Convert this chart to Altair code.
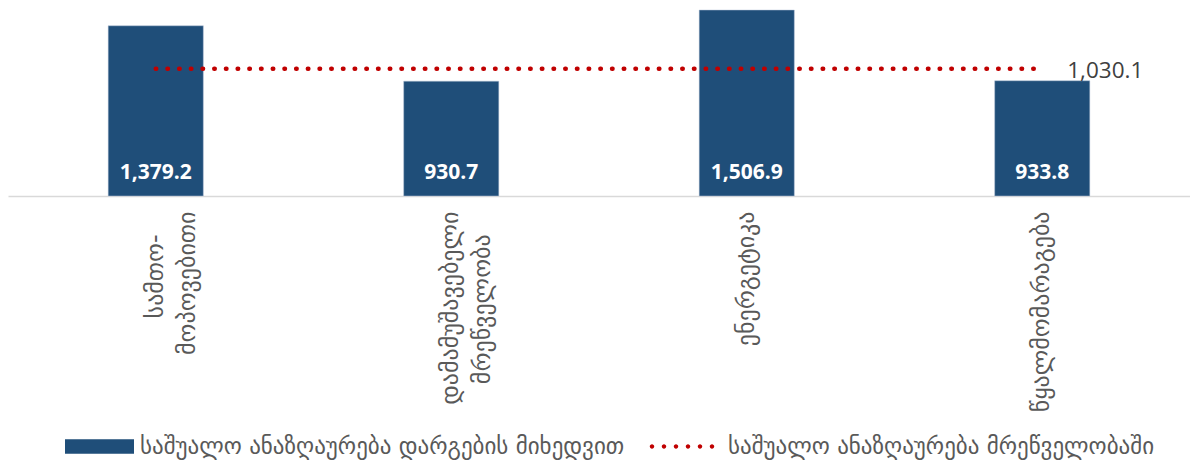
import altair as alt
import pandas as pd

# ---- data ----
categories = ["სამთო-\nმოპოვებითი", "დამამუშავებელი\nმრეწველობა", "ენერგეტიკა", "წყალმომარაგება"]
values = [1379.2, 930.7, 1506.9, 933.8]
industry_avg = 1030.1
series_bar = "საშუალო ანაზღაურება დარგების მიხედვით"
series_line = "საშუალო ანაზღაურება მრეწველობაში"

BLUE = "#1F4E79"
RED = "#C00000"
GRAY = "#595959"
GEO_FONT = "DejaVu Sans"
NUM_FONT = "Open Sans"

bars_df = pd.DataFrame({"cat": categories, "value": values, "series": series_bar})
line_df = pd.DataFrame({"cat": categories, "value": [industry_avg] * len(categories), "series": series_line})
end_df = line_df.tail(1)

# axis label expression: multi-line labels, shorter lines centred via trailing
# no-break spaces (closed by a zero-width space so they are not trimmed)
NBSP = "\u00a0"
ZWSP = "\u200b"
clauses = []
for cat in categories:
    if "\n" in cat:
        lines = cat.split("\n")
        longest = max(len(l) for l in lines)
        padded = []
        for l in lines:
            n = round((longest - len(l)) * 0.75)
            padded.append(l + (NBSP * n + ZWSP if n > 0 else ""))
        arr = "[" + ", ".join("'" + p + "'" for p in padded) + "]"
        clauses.append("datum.label == '" + cat.replace("\n", "\\n") + "' ? " + arr + " : ")
label_expr = "".join(clauses) + "datum.label"

# legend symbol paths
rect_path = "M-1,-0.213H1V0.213H-1Z"
dot_r = 0.07
dot_centers = [-0.9375, -0.5625, -0.1875, 0.1875, 0.5625, 0.9375]
dots_path = "".join(
    f"M{c - dot_r:.4f},0A{dot_r},{dot_r} 0 1,0 {c + dot_r:.4f},0A{dot_r},{dot_r} 0 1,0 {c - dot_r:.4f},0Z"
    for c in dot_centers
)

x_enc = alt.X(
    "cat:N",
    sort=categories,
    scale=alt.Scale(paddingInner=0.678, paddingOuter=0.339),
    axis=alt.Axis(
        title=None,
        labelAngle=270,
        labelExpr=label_expr,
        labelFont=GEO_FONT,
        labelFontSize=24,
        labelColor=GRAY,
        labelLineHeight=32,
        labelPadding=15,
        labelLimit=0,
        ticks=False,
        grid=False,
        domainColor="#D9D9D9",
        domainWidth=1.5,
    ),
)
y_scale = alt.Scale(domain=[0, 1588], nice=False)
y_enc = alt.Y("value:Q", scale=y_scale, axis=None)

bars = alt.Chart(bars_df).mark_bar(stroke="#B8C7D9", strokeWidth=0.5).encode(
    x=x_enc,
    y=y_enc,
    fill=alt.Fill(
        "series:N",
        scale=alt.Scale(domain=[series_bar], range=[BLUE]),
        legend=alt.Legend(
            title=None,
            orient="none",
            legendX=57,
            legendY=412,
            padding=0,
            symbolType=rect_path,
            symbolSize=4761,
            symbolStrokeWidth=0,
            labelFont=GEO_FONT,
            labelFontSize=23,
            labelColor=GRAY,
            labelOffset=6,
            labelLimit=0,
        ),
    ),
)

bar_labels = alt.Chart(bars_df).mark_text(
    font=NUM_FONT, fontSize=21, fontWeight="bold", color="white", baseline="alphabetic", dy=-17
).encode(
    x=alt.X("cat:N", sort=categories),
    y=alt.YDatum(0, scale=y_scale, axis=None),
    text=alt.Text("value:Q", format=",.1f"),
)

avg_line = alt.Chart(line_df).mark_line(
    strokeDash=[0.5, 11.2], strokeCap="round", strokeWidth=4.5
).encode(
    x=alt.X("cat:N", sort=categories),
    y=alt.Y("value:Q", scale=y_scale, axis=None),
    stroke=alt.Stroke(
        "series:N",
        scale=alt.Scale(domain=[series_line], range=[RED]),
        legend=alt.Legend(
            title=None,
            orient="none",
            legendX=642,
            legendY=414.5,
            padding=0,
            symbolType=dots_path,
            symbolSize=4096,
            symbolFillColor=RED,
            symbolStrokeWidth=0,
            labelFont=GEO_FONT,
            labelFontSize=23,
            labelColor=GRAY,
            labelOffset=14,
            labelLimit=0,
        ),
    ),
)

avg_label = alt.Chart(end_df).mark_text(
    font=NUM_FONT, fontSize=22.5, color="#404040", align="left", baseline="alphabetic", dx=25, dy=9
).encode(
    x=alt.X("cat:N", sort=categories),
    y=alt.Y("value:Q", scale=y_scale, axis=None),
    text=alt.Text("value:Q", format=",.1f"),
)

chart = (
    alt.layer(bars, bar_labels, avg_line, avg_label)
    .properties(
        width=1182,
        height=196,
        padding={"left": 8, "top": 0, "right": 0, "bottom": 267},
        autosize=alt.AutoSizeParams(type="none"),
        background="white",
    )
    .configure_view(strokeWidth=0, stroke=None)
)

chart.save("out.html", embed_options={"renderer": "svg", "actions": False})
